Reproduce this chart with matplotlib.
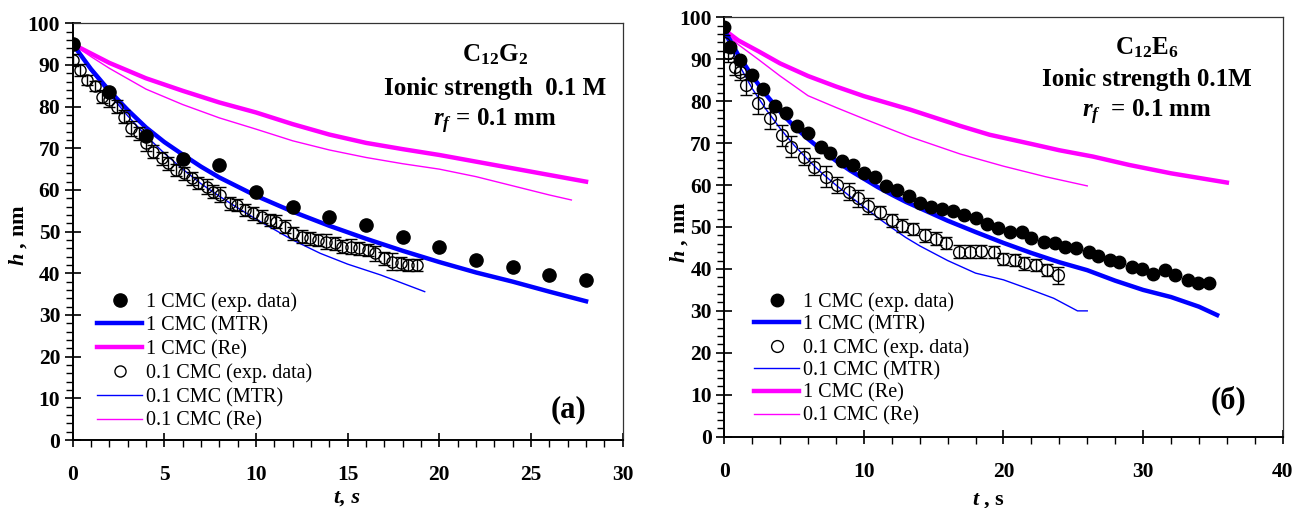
import matplotlib
matplotlib.use("Agg")
import matplotlib.pyplot as plt
from matplotlib.ticker import MultipleLocator

plt.rcParams['font.family'] = ['Liberation Serif', 'DejaVu Serif']
plt.rcParams['mathtext.fontset'] = 'custom'
plt.rcParams['mathtext.rm'] = 'Liberation Serif'
plt.rcParams['mathtext.it'] = 'Liberation Serif:italic'
plt.rcParams['mathtext.bf'] = 'Liberation Serif:bold'
plt.rcParams['mathtext.bfit'] = 'Liberation Serif:bold:italic'

BLUE = '#0000ff'
MAG = '#ff00ff'

# ---------------- Panel (a): C12G2 ----------------
a_t_exp1 = [0, 2, 4, 6, 8, 10, 12, 14, 16, 18, 20, 22, 24, 26, 28]
a_h_exp1 = [95, 83.5, 73, 67.5, 66, 59.5, 56, 53.6, 51.7, 48.6, 46.3, 43.3, 41.6, 39.6, 38.3]

a_t_exp01 = [0, 0.4, 0.8, 1.2, 1.6, 2.0, 2.4, 2.8, 3.2, 3.6, 4.0, 4.4, 4.85, 5.2, 5.65,
             6.05, 6.5, 6.85, 7.3, 7.65, 8.05, 8.6, 8.95, 9.4, 9.85, 10.3, 10.75, 11.1, 11.6, 12.0,
             12.5, 12.95, 13.4, 13.8, 14.3, 14.7, 15.2, 15.6, 16.1, 16.5, 17.0, 17.4, 17.9, 18.3, 18.8]
a_h_exp01 = [91.2, 88.8, 86.5, 85, 82.4, 81.5, 80, 77.6, 74.8, 73.6, 71.2, 69.2, 67.6, 66.4, 64.8,
             64, 62.8, 61.7, 60.8, 59.6, 58.8, 56.8, 56.4, 55.2, 54.4, 53.6, 52.8, 52.4, 51.2, 49.6,
             48.8, 48.4, 48, 47.6, 47.2, 46.4, 46.4, 46, 45.6, 44.8, 43.6, 42.8, 42.4, 42, 42]
a_e_exp01 = [1.5, 1.5, 1.2, 1.2, 1.5, 1.5, 1.5, 1.5, 1.8, 1.5, 1.8, 1.5, 1.5, 1.5, 1.5,
             1.5, 1.5, 1.5, 1.8, 1.5, 1.8, 1.5, 1.5, 1.5, 1.5, 1.5, 1.5, 1.5, 1.5, 1.5,
             1.5, 1.5, 1.5, 1.8, 1.5, 1.5, 1.8, 1.5, 1.5, 1.8, 1.5, 2.0, 1.5, 1.5, 1.5]

a_t_mtr1 = [0, 1, 2, 3, 4, 5, 6, 7, 8, 10, 12, 14, 16, 18, 20, 22, 24, 26, 28]
a_h_mtr1 = [95, 89, 83.8, 79.2, 75, 71.5, 68.5, 65.6, 63, 58.6, 54.8, 51.4, 48.3, 45.4, 42.7, 40.2, 38, 35.6, 33.3]

a_t_mtr01 = [0, 1, 2, 3, 4, 5, 6, 7, 8, 9, 10, 11, 12, 13.5, 15, 16.8, 18, 19.2]
a_h_mtr01 = [95, 88.5, 83, 77.8, 73, 68.8, 65, 61.5, 58.5, 55.7, 53, 50.5, 48, 44.8, 42.2, 39.6, 37.6, 35.6]

a_t_re1 = [0, 2, 4, 5, 6, 8, 10, 12, 14, 16, 18, 20, 22, 24, 26, 28]
a_h_re1 = [95, 90.5, 86.8, 85.3, 83.8, 81, 78.6, 75.8, 73.3, 71.3, 69.8, 68.4, 66.8, 65.2, 63.6, 62]

a_t_re01 = [0, 1, 2, 4, 6, 8, 10, 12, 14, 16, 18, 20, 22, 24, 26, 27.2]
a_h_re01 = [95, 92, 89.2, 84.2, 80.5, 77.3, 74.6, 71.8, 69.6, 67.8, 66.3, 65, 63.2, 61, 58.8, 57.6]

# ---------------- Panel (б): C12E6 ----------------
b_t_exp1 = [0, 0.4, 1.1, 2.0, 2.8, 3.6, 4.4, 5.2, 6.0, 6.9, 7.6, 8.4, 9.2, 10.0, 10.8,
            11.6, 12.4, 13.2, 14.0, 14.8, 15.6, 16.4, 17.2, 18.0, 18.8, 19.6, 20.5, 21.3, 22.0, 22.9,
            23.7, 24.4, 25.2, 26.1, 26.8, 27.6, 28.3, 29.2, 29.9, 30.7, 31.6, 32.3, 33.2, 33.9, 34.7]
b_h_exp1 = [97.8, 93.0, 89.8, 86.2, 82.8, 78.9, 77.1, 74.1, 72.3, 69.1, 67.6, 65.8, 64.8, 62.9, 62.0,
            59.8, 58.9, 57.4, 55.8, 54.8, 54.3, 53.7, 52.8, 52.1, 50.8, 49.7, 48.9, 48.9, 47.3, 46.5,
            46.1, 45.3, 44.9, 44.1, 43.1, 42.1, 41.7, 40.5, 40.1, 38.9, 39.7, 38.6, 37.4, 36.6, 36.6]

b_t_exp01 = [0, 0.3, 0.8, 1.1, 1.55, 2.4, 3.3, 4.1, 4.8, 5.7, 6.4, 7.3, 8.05, 8.9, 9.6, 10.3, 11.15,
             12.0, 12.7, 13.5, 14.4, 15.2, 15.9, 16.8, 17.6, 18.4, 19.3, 20.0, 20.8, 21.5, 22.3, 23.1, 23.9]
b_h_exp01 = [93.8, 91.4, 88.2, 87.0, 83.9, 79.5, 75.9, 71.9, 69.1, 66.8, 64.4, 62.0, 60.0, 58.4, 56.8, 55.0, 53.5,
             51.6, 50.3, 49.5, 48.0, 47.2, 46.2, 44.1, 44.1, 44.2, 44.0, 42.4, 42.1, 41.3, 40.9, 39.7, 38.5]
b_e_exp01 = [2.0, 2.0, 2.0, 2.0, 2.5, 2.5, 2.5, 2.5, 2.5, 2.0, 2.0, 2.5, 2.0, 2.0, 2.0, 2.0, 1.5,
             1.5, 1.5, 1.5, 1.5, 1.5, 1.5, 1.5, 1.5, 1.5, 1.5, 1.5, 1.5, 1.5, 1.5, 1.5, 2.0]

b_t_mtr1 = [0, 1, 2, 3, 4, 5, 6, 7, 8, 9, 10, 11, 12, 13, 14, 16, 18, 20, 22, 24, 26, 28, 30, 32, 34, 35.3]
b_h_mtr1 = [97, 91, 86, 81.5, 77.5, 74, 71, 68.3, 65.8, 63.5, 61.5, 59.5, 57.7, 56, 54.5, 51.5, 48.8,
            46.2, 43.8, 41.6, 39.7, 37.2, 35, 33.3, 31, 29]

b_t_mtr01 = [0, 1, 2, 3, 4, 5, 6, 7, 8, 9, 10, 11, 12, 13, 14, 16, 18, 20, 22, 23.6, 25.3, 26]
b_h_mtr01 = [96, 89, 83, 78, 73.5, 69.5, 66, 62.8, 60, 57.3, 54.8, 52.2, 49.8, 47.5, 45.5, 42, 39, 37.4,
             35, 33, 30, 30]

b_t_re1 = [0, 1, 2.5, 4, 6, 8, 10, 13.3, 16.9, 19, 22, 24, 26.4, 29, 32, 34, 36]
b_h_re1 = [97, 94.5, 91.8, 89, 86, 83.5, 81.2, 78, 74.1, 72, 69.8, 68.3, 66.8, 64.8, 62.8, 61.7, 60.6]

b_t_re01 = [0, 1, 2.5, 4, 6, 8, 10, 13.3, 16.9, 20, 23, 26]
b_h_re01 = [96.5, 93.5, 89.8, 86, 81.3, 78.5, 75.8, 71.5, 67.4, 64.5, 62, 59.8]

W, H = 1305, 508
fig = plt.figure(figsize=(W / 100, H / 100), dpi=100)

axA = fig.add_axes([72.7 / W, 1 - 440 / H, 550 / W, 416.7 / H])
axB = fig.add_axes([724.3 / W, 1 - 436.7 / H, 558.4 / W, 419.4 / H])

TICKFS = 15.5
LEGFS = 14.5
ANNFS = 18


def px(x, y):
    """figure fraction from pixel position measured from top-left."""
    return x / W, 1 - y / H


def style_axes(ax, xmax, xmajor, xminor):
    ax.set_xlim(0, xmax)
    ax.set_ylim(0, 100)
    ax.xaxis.set_major_locator(MultipleLocator(xmajor))
    ax.xaxis.set_minor_locator(MultipleLocator(xminor))
    ax.yaxis.set_major_locator(MultipleLocator(10))
    ax.yaxis.set_minor_locator(MultipleLocator(2))
    ax.tick_params(axis='x', which='major', direction='inout', length=10, width=1.2, pad=13)
    ax.tick_params(axis='x', which='minor', direction='out', length=5, width=1.0)
    ax.tick_params(axis='y', which='major', direction='inout', length=12, width=1.2, pad=3)
    ax.tick_params(axis='y', which='minor', direction='out', length=5, width=1.0)
    for lab in ax.get_xticklabels() + ax.get_yticklabels():
        lab.set_fontsize(TICKFS)
        lab.set_fontweight('bold')
    ax.spines['left'].set_linewidth(1.4)
    ax.spines['bottom'].set_linewidth(1.4)
    ax.spines['top'].set_linewidth(0.9)
    ax.spines['right'].set_linewidth(0.9)
    ax.spines['top'].set_color('#333333')
    ax.spines['right'].set_color('#333333')


# ---- panel a ----
axA.plot(a_t_re1, a_h_re1, color=MAG, lw=3.2, label='1 CMC (Re)', zorder=2)
axA.plot(a_t_re01, a_h_re01, color=MAG, lw=1.0, label='0.1 CMC (Re)', zorder=2)
axA.plot(a_t_mtr1, a_h_mtr1, color=BLUE, lw=3.2, label='1 CMC (MTR)', zorder=2)
axA.plot(a_t_mtr01, a_h_mtr01, color=BLUE, lw=1.0, label='0.1 CMC (MTR)', zorder=2)
axA.errorbar(a_t_exp01, a_h_exp01, yerr=a_e_exp01, fmt='none', ecolor='black',
             elinewidth=1.0, capsize=4, capthick=1.0, zorder=3)
axA.plot(a_t_exp01, a_h_exp01, 'o', ms=8, mfc='none', mec='black', mew=1.0,
         label='0.1 CMC (exp. data)', zorder=4)
axA.plot(a_t_exp1, a_h_exp1, 'o', ms=9.5, mfc='black', mec='black',
         label='1 CMC (exp. data)', zorder=5)
style_axes(axA, 30, 5, 1)

hA, lA = axA.get_legend_handles_labels()
orderA = ['1 CMC (exp. data)', '1 CMC (MTR)', '1 CMC (Re)',
          '0.1 CMC (exp. data)', '0.1 CMC (MTR)', '0.1 CMC (Re)']
axA.legend([hA[lA.index(k)] for k in orderA], orderA, loc='upper left',
           bbox_to_anchor=(0.045, 0.355), frameon=False, fontsize=LEGFS,
           handlelength=2.2, handletextpad=0.2, labelspacing=0.22, borderpad=0,
           borderaxespad=0, numpoints=1)

fig.text(*px(495, 55), r'C$_{\mathbf{12}}$G$_{\mathbf{2}}$', fontsize=ANNFS,
         fontweight='bold', ha='center', va='center')
fig.text(*px(495, 88), 'Ionic strength  0.1 M', fontsize=ANNFS,
         fontweight='bold', ha='center', va='center')
fig.text(*px(495, 121), r'$\mathbfit{r}_{\mathbfit{f}}$ = 0.1 mm', fontsize=ANNFS,
         fontweight='bold', ha='center', va='center')
fig.text(*px(569, 410), '(a)', fontsize=22, fontweight='bold',
         ha='center', va='center')

# ---- panel b ----
axB.plot(b_t_re1, b_h_re1, color=MAG, lw=3.2, label='1 CMC (Re)', zorder=2)
axB.plot(b_t_re01, b_h_re01, color=MAG, lw=1.0, label='0.1 CMC (Re)', zorder=2)
axB.plot(b_t_mtr1, b_h_mtr1, color=BLUE, lw=3.2, label='1 CMC (MTR)', zorder=2)
axB.plot(b_t_mtr01, b_h_mtr01, color=BLUE, lw=1.0, label='0.1 CMC (MTR)', zorder=2)
axB.errorbar(b_t_exp01, b_h_exp01, yerr=b_e_exp01, fmt='none', ecolor='black',
             elinewidth=1.0, capsize=4, capthick=1.0, zorder=3)
axB.plot(b_t_exp01, b_h_exp01, 'o', ms=8.5, mfc='none', mec='black', mew=1.0,
         label='0.1 CMC (exp. data)', zorder=4)
axB.plot(b_t_exp1, b_h_exp1, 'o', ms=9, mfc='black', mec='black',
         label='1 CMC (exp. data)', zorder=5)
style_axes(axB, 40, 10, 2)

hB, lB = axB.get_legend_handles_labels()
orderB = ['1 CMC (exp. data)', '1 CMC (MTR)', '0.1 CMC (exp. data)',
          '0.1 CMC (MTR)', '1 CMC (Re)', '0.1 CMC (Re)']
axB.legend([hB[lB.index(k)] for k in orderB], orderB, loc='upper left',
           bbox_to_anchor=(0.054, 0.345), frameon=False, fontsize=LEGFS,
           handlelength=2.2, handletextpad=0.2, labelspacing=0.17, borderpad=0,
           borderaxespad=0, numpoints=1)

fig.text(*px(1147, 48), r'C$_{\mathbf{12}}$E$_{\mathbf{6}}$', fontsize=ANNFS,
         fontweight='bold', ha='center', va='center')
fig.text(*px(1147, 80), 'Ionic strength 0.1M', fontsize=ANNFS,
         fontweight='bold', ha='center', va='center')
fig.text(*px(1147, 112), r'$\mathbfit{r}_{\mathbfit{f}}$  = 0.1 mm', fontsize=ANNFS,
         fontweight='bold', ha='center', va='center')
fig.text(*px(1228, 400), '(б)', fontsize=22, fontweight='bold',
         ha='center', va='center')

# axis labels
fig.text(*px(18, 235), r'$\mathbfit{h}$ , nm', rotation=90, fontsize=16,
         fontweight='bold', ha='center', va='center')
fig.text(*px(679, 232), r'$\mathbfit{h}$ , nm', rotation=90, fontsize=16,
         fontweight='bold', ha='center', va='center')
fig.text(*px(347, 498), 't, s', fontsize=16, fontweight='bold', style='italic',
         ha='center', va='center')
fig.text(*px(988, 500), r'$\mathbfit{t}$ , s', fontsize=16, fontweight='bold',
         ha='center', va='center')

fig.savefig('out.png', dpi=100)
